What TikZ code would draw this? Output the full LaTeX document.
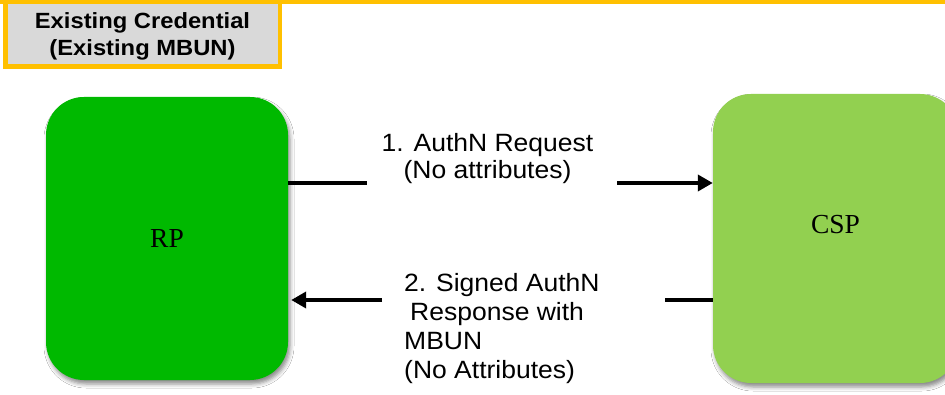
\documentclass[tikz,border=0pt]{standalone}
\usepackage{fontspec}
\setmainfont{Liberation Sans}
\newfontfamily\labelfont[FakeStretch=1.06]{Liberation Sans}
\newfontfamily\headfont[FakeStretch=1.08]{Liberation Sans}
\newfontfamily\boxfont{Liberation Serif}
\usetikzlibrary{arrows.meta,shadows.blur}
\definecolor{hdrorange}{HTML}{FFC000}
\definecolor{hdrgray}{HTML}{D9D9D9}
\definecolor{rpgreen}{HTML}{00B900}
\definecolor{cspgreen}{HTML}{92D050}
\tikzset{
  party/.style={rectangle, rounded corners=38pt, inner sep=0pt,
    font=\boxfont\fontsize{27.5}{30}\selectfont,
    blur shadow={shadow xshift=2pt, shadow yshift=-4pt,
      shadow blur radius=4pt, shadow opacity=45}},
  msg/.style={inner sep=0pt, font=\labelfont\fontsize{25}{27}\selectfont},
  conn/.style={line width=4pt, draw=black},
  tip/.style={conn, -{Triangle[length=15pt,width=16pt]}}
}
\begin{document}
\begin{tikzpicture}[x=1pt,y=-1pt]
\useasboundingbox (0,0) rectangle (945,395);
\fill[white] (0,0) rectangle (945,395);

% orange rule across the top
\fill[hdrorange] (0,0) rectangle (945,4);

% scenario header
\node[draw=hdrorange, line width=4.5pt, fill=hdrgray, minimum width=274.5pt,
      minimum height=64.5pt, inner sep=0pt, align=center, text depth=0pt,
      font=\headfont\bfseries\fontsize{22}{27}\selectfont]
  (hdr) at (142.5,34.5) {Existing Credential\\(Existing MBUN)};

% the two parties
\node[party, fill=rpgreen, minimum width=242pt, minimum height=283pt]
  (rp) at (167,238.5) {RP};
\node[party, fill=cspgreen, minimum width=245pt, minimum height=289pt]
  (csp) at (835.5,238.5) {};
\node[font=\boxfont\fontsize{27.5}{30}\selectfont, inner sep=0pt]
  (csptext) at ([yshift=14pt]csp.center) {CSP};

% message labels
\node[msg, align=center, anchor=north] (m1) at (487.5,133)
  {1. AuthN Request\\(No attributes)};
\node[msg, align=left, anchor=north west, font=\labelfont\fontsize{25}{29}\selectfont]
  (m2) at (404,273)
  {2. Signed AuthN\\\hspace*{6pt}Response with\\MBUN\\(No Attributes)};

% gaps in the connectors around the labels
\coordinate (g1a) at (367,183);
\coordinate (g1b) at (617,183);
\coordinate (g2a) at (382,300);
\coordinate (g2b) at (665,300);

% 1: request from RP to CSP
\draw[conn] (rp.east |- g1a) -- (g1a);
\draw[tip] (g1b) -- (csp.west |- g1b);

% 2: response from CSP back to RP
\draw[conn] (csp.west |- g2b) -- (g2b);
\draw[tip, shorten >=3pt] (g2a) -- (rp.east |- g2a);
\end{tikzpicture}
\end{document}
